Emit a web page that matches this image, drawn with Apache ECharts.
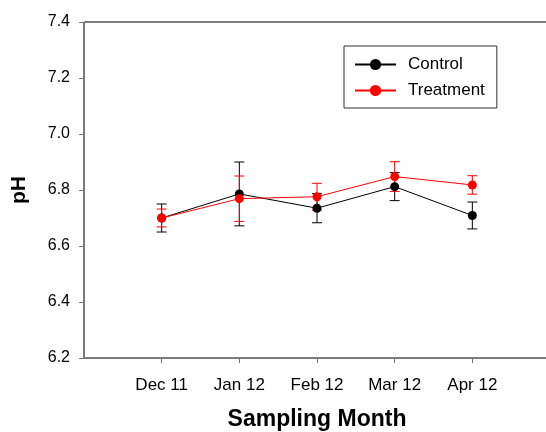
<!DOCTYPE html>
<html>
<head>
    <meta http-equiv="Content-Type" content="text/html; charset=utf-8" />
    <title>pH by sampling month</title>
    <style>
        html, body { margin: 0; padding: 0; background: #fff; }
        #main { width: 546px; height: 432px; }
    </style>
</head>
<body>
    <div id="main"></div>
    <script src="https://cdn.jsdelivr.net/npm/echarts@6/dist/echarts.min.js"></script>
    <script type="text/javascript">
        var months = ['Dec 11', 'Jan 12', 'Feb 12', 'Mar 12', 'Apr 12'];
        var controlMean = [6.700, 6.786, 6.735, 6.812, 6.709];
        var controlErr = [0.050, 0.114, 0.052, 0.050, 0.048];
        var treatMean = [6.700, 6.769, 6.776, 6.848, 6.818];
        var treatErr = [0.032, 0.081, 0.048, 0.053, 0.033];
        var yTicks = [6.2, 7.4, 0.2]; // min, max, step

        // padded categories so the months sit one step in from the axes
        var categories = [''].concat(months, ['']);

        function points(means) {
            return means.map((v, i) => [i + 1, v]);
        }
        function errData(means, errs) {
            return means.map((v, i) => [i + 1, v - errs[i], v + errs[i]]);
        }

        function errorBar(color) {
            return function (params, api) {
                var lo = api.coord([api.value(0), api.value(1)]);
                var hi = api.coord([api.value(0), api.value(2)]);
                var w = 5;
                var style = { stroke: color, lineWidth: 1 };
                return {
                    type: 'group',
                    children: [
                        { type: 'line', shape: { x1: lo[0], y1: lo[1], x2: hi[0], y2: hi[1] }, style: style },
                        { type: 'line', shape: { x1: lo[0] - w, y1: lo[1], x2: lo[0] + w, y2: lo[1] }, style: style },
                        { type: 'line', shape: { x1: hi[0] - w, y1: hi[1], x2: hi[0] + w, y2: hi[1] }, style: style }
                    ]
                };
            };
        }

        var showInner = (i) => i > 0 && i < categories.length - 1;
        var font = 'Liberation Sans, Arial, sans-serif';

        var option = {
            animation: false,
            textStyle: { fontFamily: font },
            grid: {
                left: 84, top: 22, bottom: 74, right: -4,
                outerBoundsMode: 'none',
                containLabel: false,
                show: true, borderColor: '#000', borderWidth: 1
            },
            legend: {
                orient: 'vertical',
                left: 344, top: 46,
                padding: [10, 12, 9, 10],
                itemGap: 9,
                itemWidth: 41, itemHeight: 14,
                borderColor: '#333', borderWidth: 1,
                textStyle: { fontSize: 17, color: '#000', fontFamily: font, padding: [0, 0, 0, 7] },
                data: ['Control', 'Treatment']
            },
            xAxis: {
                type: 'category',
                data: categories,
                boundaryGap: false,
                name: 'Sampling Month',
                nameLocation: 'middle',
                nameGap: 50,
                nameTextStyle: { fontSize: 23, fontWeight: 'bold', color: '#000', fontFamily: font },
                axisLine: { lineStyle: { color: '#777', width: 1 } },
                axisTick: { show: true, interval: showInner, length: 5, lineStyle: { color: '#777' } },
                axisLabel: { interval: showInner, margin: 19, fontSize: 17, color: '#000', fontFamily: font },
                splitLine: { show: false }
            },
            yAxis: {
                type: 'value',
                min: yTicks[0], max: yTicks[1], interval: yTicks[2],
                name: 'pH',
                nameLocation: 'middle',
                nameGap: 54,
                nameTextStyle: { fontSize: 21, fontWeight: 'bold', color: '#000', fontFamily: font },
                axisLine: { show: true, lineStyle: { color: '#777', width: 1 } },
                axisTick: { show: true, length: 5, lineStyle: { color: '#777' } },
                axisLabel: { margin: 14, fontSize: 16, color: '#000', fontFamily: font,
                    formatter: (v) => v.toFixed(1) },
                splitLine: { show: false }
            },
            series: [
                {
                    name: 'Control', type: 'line',
                    data: points(controlMean),
                    symbol: 'circle', symbolSize: 9,
                    itemStyle: { color: '#000' },
                    lineStyle: { color: '#000', width: 1 }
                },
                {
                    name: 'Control', type: 'custom',
                    renderItem: errorBar('#000'),
                    data: errData(controlMean, controlErr),
                    encode: { x: 0, y: [1, 2] }
                },
                {
                    name: 'Treatment', type: 'line',
                    data: points(treatMean),
                    symbol: 'circle', symbolSize: 9,
                    itemStyle: { color: '#ff0000' },
                    lineStyle: { color: '#ff0000', width: 1 }
                },
                {
                    name: 'Treatment', type: 'custom',
                    renderItem: errorBar('#ff0000'),
                    data: errData(treatMean, treatErr),
                    encode: { x: 0, y: [1, 2] }
                }
            ]
        };

        var myChart = echarts.init(document.getElementById('main'));
        myChart.setOption(option);
    </script>
</body>
</html>
